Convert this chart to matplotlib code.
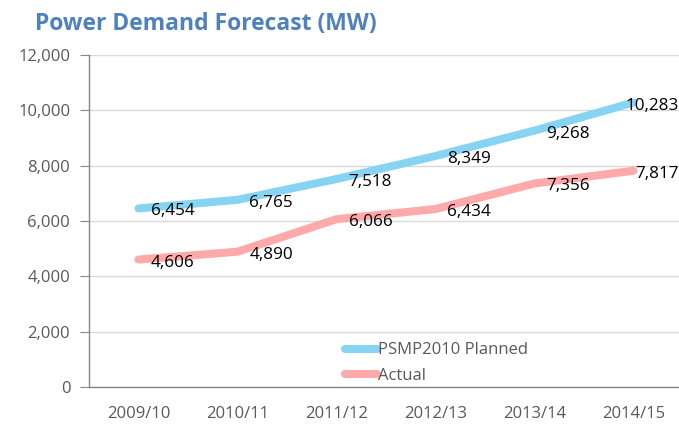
import matplotlib
matplotlib.use("Agg")
import matplotlib.pyplot as plt
from matplotlib.ticker import FuncFormatter

plt.rcParams['font.family'] = ['Open Sans', 'DejaVu Sans']

years = ['2009/10', '2010/11', '2011/12', '2012/13', '2013/14', '2014/15']
planned = [6454, 6765, 7518, 8349, 9268, 10283]
actual = [4606, 4890, 6066, 6434, 7356, 7817]

blue = '#87D4F2'
pink = '#FFAAAA'
grey = '#595959'

fig = plt.figure(figsize=(6.79, 4.26), dpi=100)
ax = fig.add_axes([89/679, 39/426, 594/679, 332/426])

x = range(len(years))
ax.plot(x, planned, color=blue, lw=5.8, solid_capstyle='round', solid_joinstyle='round',
        label='PSMP2010 Planned', zorder=3)
ax.plot(x, actual, color=pink, lw=5.8, solid_capstyle='round', solid_joinstyle='round',
        label='Actual', zorder=3)

# data labels, right of the point; last ones pulled left to stay inside
for i, (p, a) in enumerate(zip(planned, actual)):
    dx_p = 12 if i < 5 else -8
    dx_a = 12 if i < 5 else 2
    ax.annotate(f'{p:,}', (i, p), xytext=(dx_p * 0.72, -3 * 0.72), textcoords='offset points',
                ha='left', va='center', fontsize=12.3, color='black', zorder=4)
    ax.annotate(f'{a:,}', (i, a), xytext=(dx_a * 0.72, -3 * 0.72), textcoords='offset points',
                ha='left', va='center', fontsize=12.3, color='black', zorder=4)

ax.set_xlim(-0.5, 5.5)
ax.set_ylim(0, 12000)
ax.set_yticks(range(0, 12001, 2000))
ax.yaxis.set_major_formatter(FuncFormatter(lambda v, _: f'{int(v):,}'))
ax.set_xticks(list(x))
ax.set_xticklabels(years)

ax.grid(axis='y', color='#D9D9D9', lw=1)
ax.set_axisbelow(True)
for s in ['top', 'right']:
    ax.spines[s].set_visible(False)
for s in ['left', 'bottom']:
    ax.spines[s].set_color('#868686')
    ax.spines[s].set_linewidth(1)

ax.tick_params(axis='y', colors='#868686', labelcolor=grey, labelsize=12, length=6.5, pad=7)
ax.tick_params(axis='x', length=0, labelcolor=grey, labelsize=12, pad=14)

ax.legend(loc='lower left', bbox_to_anchor=(241/594, -0.035), frameon=False, fontsize=12,
          handlelength=1.9, handletextpad=0.1, labelspacing=0.55, labelcolor=grey)

fig.text(35/679, 1 - 24/426, 'Power Demand Forecast (MW)', fontsize=16.5, fontweight='bold',
         color='#4F81BD', ha='left', va='center')

fig.savefig('out.png', dpi=100)
